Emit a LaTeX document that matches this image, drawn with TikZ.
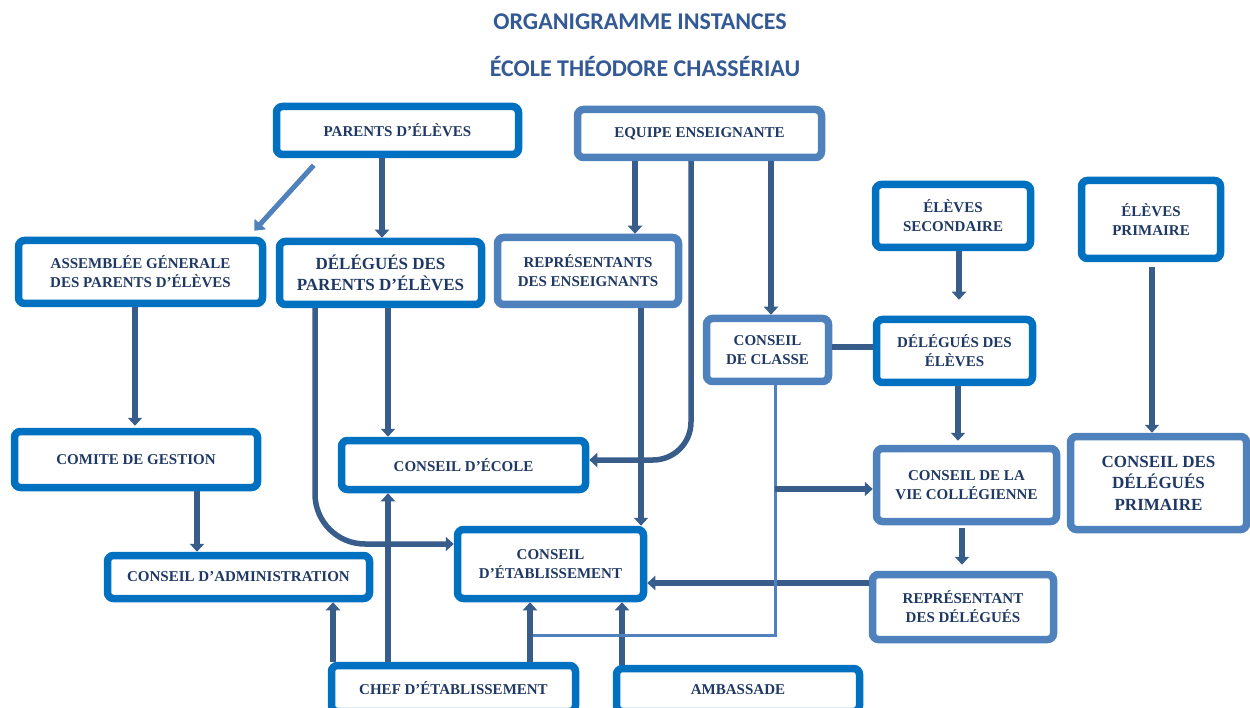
\documentclass[tikz,border=0pt]{standalone}
\usepackage{fontspec}
\setmainfont{Liberation Serif}
\newfontfamily\titlefont{Carlito}
\usetikzlibrary{arrows.meta,calc}
\definecolor{dkb}{RGB}{0,112,192}
\definecolor{ltb}{RGB}{79,129,189}
\definecolor{con}{RGB}{56,93,138}
\definecolor{txt}{RGB}{31,56,100}
\definecolor{ttl}{RGB}{52,90,150}
\begin{document}
\begin{tikzpicture}[x=1pt,y=-1pt,
  box/.style={draw=dkb,line width=7.5pt,rounded corners=6pt,fill=white,align=center,inner sep=0pt,text=txt,font=\bfseries\fontsize{15}{19}\selectfont},
  lbox/.style={box,draw=ltb},
  bigtext/.style={font=\bfseries\fontsize{17}{21.5}\selectfont},
  arr/.style={draw=con,line width=5.5pt,-{Triangle[width=14pt,length=8pt]}},
  link/.style={draw=con,line width=5.5pt},
  lightline/.style={draw=ltb,line width=3pt},
  lightarr/.style={draw=ltb,line width=5pt,-{Triangle[width=15pt,length=9pt]}},
  titletext/.style={font=\titlefont\bfseries\fontsize{24}{28}\selectfont,text=ttl},
]
\useasboundingbox (0,0) rectangle (1250,708);
\fill[white] (0,0) rectangle (1250,708);

% titles
\node[titletext] (t1) at (640,22) {ORGANIGRAMME INSTANCES};
\node[titletext] (t2) at (645,67) {ÉCOLE THÉODORE CHASSÉRIAU};

% boxes
\node[box,minimum width=242,minimum height=48] (par) at (397.5,130.5) {PARENTS D’ÉLÈVES};
\node[lbox,minimum width=244,minimum height=48] (equ) at (699.5,133.5) {EQUIPE ENSEIGNANTE};
\node[box,minimum width=244,minimum height=63] (ass) at (140.5,272) {ASSEMBLÉE GÉNERALE\\DES PARENTS D’ÉLÈVES};
\node[box,bigtext,minimum width=202,minimum height=63] (dpa) at (380.5,273) {DÉLÉGUÉS DES\\PARENTS D’ÉLÈVES};
\node[lbox,minimum width=181,minimum height=67] (rep) at (588,271) {REPRÉSENTANTS\\DES ENSEIGNANTS};
\node[box,minimum width=155,minimum height=63] (esec) at (953,216) {ÉLÈVES\\SECONDAIRE};
\node[box,minimum width=139,minimum height=78] (epri) at (1151,219.5) {ÉLÈVES\\PRIMAIRE};
\node[lbox,minimum width=122,minimum height=63] (ccl) at (767.5,350) {CONSEIL\\DE CLASSE};
\node[box,minimum width=156,minimum height=63] (del) at (954.5,351) {DÉLÉGUÉS DES\\ÉLÈVES};
\node[box,minimum width=243,minimum height=56] (com) at (136,459.5) {COMITE DE GESTION};
\node[box,minimum width=244,minimum height=49] (eco) at (463.5,465) {CONSEIL D’ÉCOLE};
\node[lbox,minimum width=180,minimum height=73] (cvc) at (966.5,485) {CONSEIL DE LA\\VIE COLLÉGIENNE};
\node[lbox,bigtext,minimum width=176,minimum height=93] (cdp) at (1158.5,483) {CONSEIL DES\\DÉLÉGUÉS\\PRIMAIRE};
\node[box,minimum width=262,minimum height=43] (adm) at (238.5,577) {CONSEIL D’ADMINISTRATION};
\node[box,minimum width=186,minimum height=69] (eta) at (550.5,564) {CONSEIL\\D’ÉTABLISSEMENT};
\node[lbox,minimum width=181,minimum height=65] (rdd) at (963,607) {REPRÉSENTANT\\DES DÉLÉGUÉS};
\node[box,minimum width=244,minimum height=46] (chef) at (453.5,688.5) {CHEF D’ÉTABLISSEMENT};
\node[box,minimum width=243,minimum height=43] (amb) at (738,690) {AMBASSADE};

% connectors
\draw[lightarr] ($(par.south west)+(41,7)$) -- ($(ass.north east)+(-12,-6)$);
\draw[arr] (par.south -| 382,0) -- (dpa.north -| 382,0);
\draw[arr] (equ.south -| 635,0) -- (rep.north -| 635,0);
\draw[arr,rounded corners=38pt] (equ.south -| 691,0) |- (eco.east |- 0,460);
\draw[arr] (equ.south -| 771,0) -- (ccl.north -| 771,0);
\draw[arr,shorten >=16pt] (esec.south -| 959,0) -- (del.north -| 959,0);
\draw[link] (del.west |- 0,347) -- (ccl.east |- 0,347);
\draw[arr,shorten >=4pt] (del.south -| 958,0) -- (cvc.north -| 958,0);
\draw[arr,shorten <=5pt] (epri.south -| 1152,0) -- (cdp.north -| 1152,0);
\draw[arr,shorten <=3pt,shorten >=6pt] (cvc.south -| 962,0) -- (rdd.north -| 962,0);
\draw[arr,shorten >=2pt] (ass.south -| 135,0) -- (com.north -| 135,0);
\draw[arr] (com.south -| 197,0) -- (adm.north -| 197,0);
\draw[arr] (chef.north -| 333,0) -- (adm.south -| 333,0);
\draw[arr] (chef.north -| 388,0) -- (eco.south -| 388,0);
\draw[arr] (dpa.south -| 388,0) -- (eco.north -| 388,0);
\draw[arr,rounded corners=50pt] (dpa.south -| 315,0) |- (eta.west |- 0,544);
\draw[arr] (rep.south -| 641,0) -- (eta.north -| 641,0);
\draw[arr] (rdd.west |- 0,583) -- (eta.east |- 0,583);
\draw[arr] (amb.north -| 622,0) -- (eta.south -| 622,0);
\coordinate (j1) at (532,635);
\coordinate (j2) at (775,489);
\draw[lightline] (ccl.south -| 775,0) |- (j1);
\draw[arr] (chef.north -| 530,0) -- (eta.south -| 530,0);
\draw[arr] (j2) -- (cvc.west |- j2);
\end{tikzpicture}
\end{document}
